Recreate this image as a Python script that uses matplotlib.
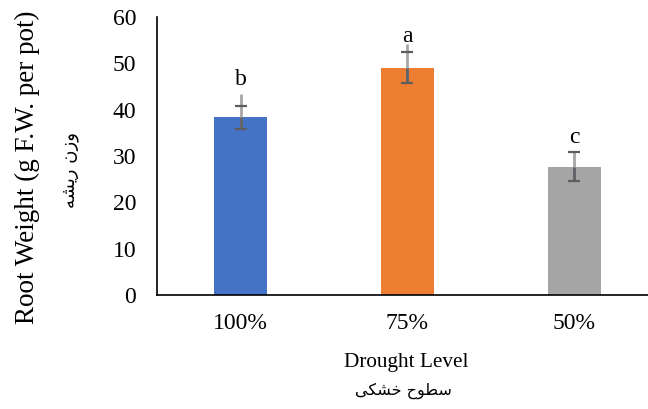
import matplotlib
matplotlib.use("Agg")
import matplotlib.pyplot as plt
import numpy as np

categories = ["100%", "75%", "50%"]
values = [38.35, 49.1, 27.7]
errors = [2.5, 3.35, 3.1]
upper_whisker = [4.95, 5.0, 3.1]
letters = ["b", "a", "c"]
letter_y = [45.3, 54.5, 32.9]
colors = ["#4472C4", "#ED7D31", "#A5A5A5"]

# Persian labels written in visual order with Arabic presentation forms
ylabel_fa = "\uFEEA\uFEB8\uFEF3\uFEAD \uFEE5\uFEAF\uFEED"   # وزن ریشه
xlabel_fa = "\uFEF0\uFEDC\uFEB8\uFEA7 \uFEA1\uFEEE\uFEC4\uFEB3"  # سطوح خشکی

serif = ["Liberation Serif", "DejaVu Serif"]
plt.rcParams["font.family"] = serif

fig = plt.figure(figsize=(6.48, 4.09), dpi=100)
ax = fig.add_axes([0.2423, 0.2787, 0.7731, 0.6797])

x = np.arange(len(categories))
v = np.array(values)
e = np.array(errors)
u = np.array(upper_whisker)
ax.bar(x, v, width=0.317, color=colors, zorder=2)
# light whisker over full extent
ax.vlines(x, v - e, v + u, color="#A6A6A6", linewidth=2.0, zorder=3)
# darker part inside bar
ax.vlines(x, v - e, v, color="#5F6168", linewidth=2.0, zorder=3)
# caps
ax.errorbar(x, v, yerr=e, fmt="none", ecolor="#5E5E5E", elinewidth=0,
            capsize=4.6, capthick=1.6, zorder=4)
for xi, ly, l in zip(x, letter_y, letters):
    ax.text(xi, ly, l, ha="center", va="baseline", fontsize=17)

ax.set_xlim(-0.5, 2.5)
ax.set_ylim(0, 60)
ax.set_yticks(range(0, 61, 10))
ax.set_xticks(x)
ax.set_xticklabels(categories)
ax.tick_params(axis="both", length=0, labelsize=17)
ax.tick_params(axis="y", pad=15)
ax.tick_params(axis="x", pad=13)
for s in ["top", "right"]:
    ax.spines[s].set_visible(False)
for s in ["left", "bottom"]:
    ax.spines[s].set_color("black")
    ax.spines[s].set_linewidth(1.2)

fig.text(0.627, 0.1027, "Drought Level", ha="center", va="baseline", fontsize=15.3)
fig.text(0.622, 0.044, xlabel_fa, ha="center", va="center", fontsize=11.5,
         family="DejaVu Sans")
fig.text(0.042, 0.592, "Root Weight (g F.W. per pot)", rotation=90,
         ha="center", va="center", fontsize=19.5)
fig.text(0.108, 0.584, ylabel_fa, rotation=90, ha="center", va="center",
         fontsize=13, family="DejaVu Sans")

fig.savefig("out.png", dpi=100)
